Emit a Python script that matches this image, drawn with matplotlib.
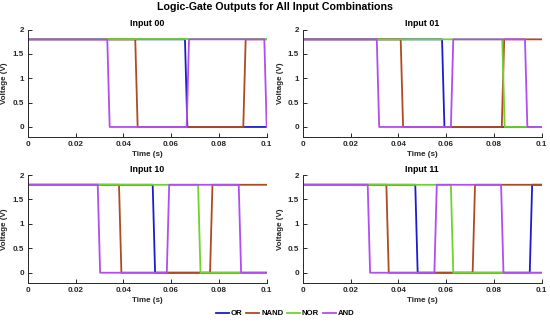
import matplotlib
matplotlib.use("Agg")
import matplotlib.pyplot as plt
from matplotlib.ticker import FuncFormatter

plt.rcParams['font.family'] = ['Liberation Sans', 'DejaVu Sans']

# ---- data ----
panels = ["Input 00", "Input 01", "Input 10", "Input 11"]
gates = ["OR", "NAND", "NOR", "AND"]
colors = ["#1c1ccc", "#b04a22", "#6fd42a", "#b04ef0"]
x_ticks = [0, 0.02, 0.04, 0.06, 0.08, 0.1]
y_ticks = [0, 0.5, 1, 1.5, 2]
v_high = 1.8
v_low = 0.0
edge = 0.001      # transition duration (s)
t_end = 0.1

# toggle instants (s) for each gate, per panel; all waveforms start high
toggles_00 = {"OR": [0.0658], "NAND": [0.0450, 0.0902], "NOR": [], "AND": [0.0333, 0.0665, 0.0990]}
toggles_01 = {"OR": [0.0583], "NAND": [0.0410, 0.0833], "NOR": [0.0835], "AND": [0.0310, 0.0620, 0.0930]}
toggles_10 = {"OR": [0.0523], "NAND": [0.0382, 0.0763], "NOR": [0.0713], "AND": [0.0293, 0.0582, 0.0883]}
toggles_11 = {"OR": [0.0471, 0.0950], "NAND": [0.0350, 0.0711], "NOR": [0.0620], "AND": [0.0272, 0.0551, 0.0830]}
toggles = [toggles_00, toggles_01, toggles_10, toggles_11]


def waveform(tlist):
    t = [0.0]
    v = [v_high]
    level = v_high
    for tt in tlist:
        t.append(tt)
        v.append(level)
        level = v_low if level == v_high else v_high
        t.append(tt + edge)
        v.append(level)
    t.append(t_end)
    v.append(level)
    return t, v


fig = plt.figure(figsize=(5.5, 3.22), dpi=100)
W, H = 550.0, 322.0
lefts = [27.7, 302.7, 27.7, 302.7]
tops = [29.6, 29.6, 175.0, 175.0]
bottoms = [136.7, 136.7, 282.5, 282.5]
aw = 239.0

fmt = FuncFormatter(lambda x, p: ("%g" % round(x, 4)))
txtc = '#262626'

handles = []
for i, name in enumerate(panels):
    ax = fig.add_axes([lefts[i] / W, 1 - bottoms[i] / H, aw / W, (bottoms[i] - tops[i]) / H])
    for g, c in zip(gates, colors):
        t, v = waveform(toggles[i][g])
        ln, = ax.plot(t, v, color=c, lw=1.3, label=g)
        if i == 0:
            handles.append(ln)
    ax.set_xlim(0, 0.1)
    ax.set_ylim(-0.2, 2)
    ax.set_xticks(x_ticks)
    ax.set_yticks(y_ticks)
    ax.xaxis.set_major_formatter(fmt)
    ax.yaxis.set_major_formatter(fmt)
    ax.spines['top'].set_visible(False)
    ax.spines['right'].set_visible(False)
    for s in ('left', 'bottom'):
        ax.spines[s].set_linewidth(0.7)
        ax.spines[s].set_color(txtc)
    ax.tick_params(direction='in', length=3, width=0.7, labelsize=5.8, colors=txtc)
    ax.tick_params(axis='x', pad=3)
    ax.tick_params(axis='y', pad=2.5)
    for lab in ax.get_xticklabels() + ax.get_yticklabels():
        lab.set_fontweight('bold')
    ax.set_title(name, fontsize=6.4, fontweight='bold', pad=2.5, color='black')
    ax.set_xlabel("Time (s)", fontsize=5.8, fontweight='bold', labelpad=2.5, color=txtc)
    ax.set_ylabel("Voltage (V)", fontsize=5.8, fontweight='bold', color=txtc)
    ax.yaxis.set_label_coords((8.5 - 27.7) / aw, 0.5)

fig.suptitle("Logic-Gate Outputs for All Input Combinations", fontsize=7.7, fontweight='bold', y=0.995)
leg = fig.legend(handles, gates, loc='center', bbox_to_anchor=(285 / W, 1 - 313.5 / H), ncol=4,
                 frameon=False, handlelength=1.7, handletextpad=0.25,
                 columnspacing=0.45, prop={'weight': 'bold', 'size': 5.6})
fig.savefig("out.png", dpi=100)
